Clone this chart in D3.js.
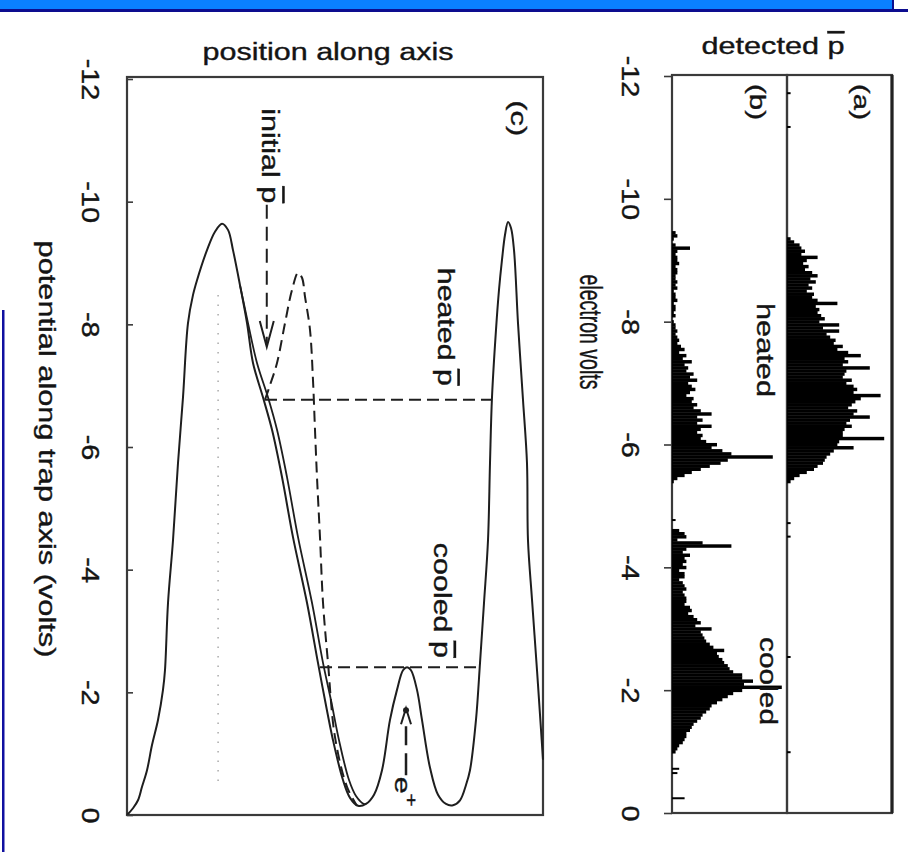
<!DOCTYPE html>
<html><head><meta charset="utf-8">
<script src="https://cdn.jsdelivr.net/npm/d3@7"></script>
<style>
html,body{margin:0;padding:0;background:#fff;}
svg{display:block;}
</style></head><body>
<svg id="chart" width="908" height="852"></svg>
<script>
// ---------------- data ----------------
const voltTicks = [-12, -10, -8, -6, -4, -2, 0];
const binWidth = 0.05;

// histogram (a): heated antiprotons, counts per 0.05 V bin
const heatedAStart = -9.35;
const heatedA = [2,4,7,8, 10,8,17,11,9, 12,10,14,17,13, 16,12,14,11,15, 14,17,28,16,18,
  17,19,21,18,29, 20,29,22,24,27, 26,31,28,34,41, 32,34,31,46,33, 32,31,36,33,37,
  39,37,52,41,38, 36,34,39,37,46, 35,33,36,32,31, 31,54,29,28,37, 26,24,22,21,20,
  17,15,11,7,4, 2];
// histogram (b): heated part
const heatedBStart = -9.45;
const heatedB = [2,3,1,0,2,10,3,2,3,3,4,2,3,3,2,2,3,2,3,1,2,2,3,1,2,2,1,2,0,1,2,2,3,2,3,4,3,5,7,4,
  8,6,11,7,9,8,12,10,14,9,11,13,10,8,12,11,14,12,16,22,14,17,14,22,16,14,17,16,19,25,
  22,28,33,56,31,27,21,16,11,7,3,1];
// histogram (b): cooled part
const cooledBStart = -4.6;
const cooledB = [4,7,8,3,17,33,8,6,10,7, 8,6,8,4,7,7,4,6,7,8, 6,7,8,8,7,10,11,9,12,14,
  16,13,22,16,17,18,19,21,23,29, 25,26,28,29,31,32,34,39,39,45, 40,61,39,34,31,28,25,22,21,19,
  17,16,14,12,11,10,8,8,7,6, 4,3,2];
// isolated single counts [volts, count]
const strayA = [[-11.72,2],[-11.17,2],[-4.72,2],[-4.5,2],[-2.54,2],[-0.99,2]];
const strayB = [[-4.77,2],[-0.72,4],[-0.65,3],[-0.24,7]];

// panel (c): trap potential vs. position (arbitrary position units 0..100)
const wellPos = [0,1.44,2.64,3.61,4.81,6.01,7.45,8.65,9.13,9.86,11.06,12.26,13.46,14.66,15.87,16.83,19.23,21.15,22.84,24.28,25.48,27.16,
  28.85,30.29,32.69,34.86,37.26,39.9,43.27,45.91,47.6,49.52,51.92,53.61,55.53,57.45,59.38,61.3,63.22,64.9,66.35,67.31,68.27,69.71,70.91,
  72.84,74.76,76.68,78.37,80.05,81.49,82.45,83.89,84.86,85.82,86.78,87.26,87.74,88.7,89.42,90.14,90.87,91.59,92.31,93.03,93.99,95.19,
  96.15,96.39,97.36,98.56,99.52,100];
const wellV = [0,-0.11,-0.24,-0.46,-0.73,-1.14,-1.55,-2.04,-2.36,-3.46,-4.48,-5.74,-6.81,-8.02,-8.48,-8.72,-9.21,-9.51,-9.64,-9.54,-9.21,-8.64,
  -8.02,-7.37,-6.81,-6.28,-5.51,-4.53,-3.46,-2.48,-1.87,-1.22,-0.57,-0.28,-0.15,-0.18,-0.33,-0.73,-1.55,-2.04,-2.36,-2.41,-2.36,-2.04,-1.55,
  -0.77,-0.33,-0.18,-0.16,-0.24,-0.49,-0.73,-1.55,-2.48,-3.46,-4.48,-5.74,-6.81,-7.91,-8.56,-9.05,-9.46,-9.67,-9.57,-9.21,-8.02,-6.77,
  -5.74,-4.48,-3.51,-2.36,-1.39,-0.9];
// second (slightly shifted) solid potential
const well2Pos = [27.16,29.09,31.25,33.89,36.06,38.46,41.11,44.47,47.12,49.04,50.96,53.37,55.05,56.97,57.45];
const well2V = [-8.64,-8.02,-7.37,-6.81,-6.28,-5.51,-4.53,-3.46,-2.48,-1.87,-1.22,-0.57,-0.31,-0.18,-0.18];
// dashed initial potential
const initPos = [33.17,34.38,36.06,37.98,39.66,41.11,42.07,42.79,43.99,44.71,45.19,45.67,46.39,47.12,48.32,50,52.88,55.29];
const initV = [-6.77,-7.01,-7.37,-8.02,-8.56,-8.84,-8.76,-8.45,-7.91,-7.09,-6.28,-5.51,-4.53,-3.46,-2.48,-1.27,-0.46,-0.15];
// energy levels (dashed): [volts, pos from, pos to]
const heatedLevel = [-6.77, 33.17, 87.5];
const cooledLevel = [-2.41, 46.4, 84.86];
const initialArrow = [33.6, -9.95, -7.63];   // pos, V from, V to
const positronArrow = [67.07, -0.65, -1.74];
const centerDotted = [21.9, -8.48, -0.49];

// ---------------- drawing ----------------
const FONT = '"Liberation Sans", Arial, Helvetica, sans-serif';
const svg = d3.select("#chart").attr("font-family", FONT);
const ink = "#1e1e1e", frameCol = "#3a3a3a", textCol = "#141414";

// slide decoration
svg.append("rect").attr("x",0).attr("y",0).attr("width",893).attr("height",9).attr("fill","#0a80ff");
svg.append("rect").attr("x",0).attr("y",9).attr("width",908).attr("height",3).attr("fill","#0d0d8f");
svg.append("rect").attr("x",892).attr("y",0).attr("width",2).attr("height",12).attr("fill","#0d0d8f");
svg.append("rect").attr("x",2).attr("y",310).attr("width",2.5).attr("height",542).attr("fill","#1010a0");

const yC = d3.scaleLinear().domain([-12, 0]).range([79, 815]);
const xPos = d3.scaleLinear().domain([0, 100]).range([127, 543]);
const yR = d3.scaleLinear().domain([-12, 0]).range([76, 813]);
const xCnt = d3.scaleLinear().domain([0, 60]).range([0, 108]);
const xB0 = 672, xA0 = 787, xA1 = 892;

// text helper: optional 90° rotation, stretched along the reading direction to a target length
function label(x, y, rot, size, parts, len) {
  const t = svg.append("text")
    .attr("text-anchor","middle").attr("dominant-baseline", rot ? "central" : "auto")
    .attr("font-size", size).attr("fill",textCol)
    .attr("stroke",textCol).attr("stroke-width",0.35);
  parts.forEach(p => {
    const s = t.append("tspan").text(p.t);
    if (p.over) s.attr("text-decoration","overline");
    if (p.sup) s.attr("baseline-shift","super").attr("font-size", size*0.75);
  });
  const L = t.node().getComputedTextLength();
  const sx = len ? len / L : 1;
  t.attr("transform", `translate(${x},${y})` + (rot ? " rotate(90)" : "") + ` scale(${sx},1)`);
  return t;
}

// ---- panel (c)
const gC = svg.append("g");
gC.append("rect").attr("x",xPos(0)).attr("y",77).attr("width",xPos(100)-xPos(0)).attr("height",815-77)
  .attr("fill","none").attr("stroke",frameCol).attr("stroke-width",2.2);

function styleAxis(g, dx) {
  g.attr("font-family", FONT).attr("font-size", 24);
  g.select(".domain").remove();
  g.selectAll(".tick line").attr("stroke",frameCol).attr("stroke-width",1.6);
  g.selectAll(".tick text").attr("x",null).attr("dy",null)
    .attr("transform",`translate(${dx},0) rotate(90) scale(1.2,1)`).attr("text-anchor","middle")
    .attr("dominant-baseline","central").attr("fill",textCol)
    .attr("stroke",textCol).attr("stroke-width",0.4);
}
const axC = d3.axisLeft(yC).tickValues(voltTicks).tickSize(-6).tickSizeOuter(0).tickFormat(d => String(d));
styleAxis(svg.append("g").attr("transform",`translate(${xPos(0)},0)`).call(axC), -37);

const line = d3.line().x(d => xPos(d[0])).y(d => yC(d[1])).curve(d3.curveCatmullRom.alpha(0.5));
gC.append("path").attr("d", line(wellPos.map((p,i)=>[p, wellV[i]])))
  .attr("fill","none").attr("stroke",ink).attr("stroke-width",2);
gC.append("path").attr("d", line(well2Pos.map((p,i)=>[p, well2V[i]])))
  .attr("fill","none").attr("stroke",ink).attr("stroke-width",1.8);
gC.append("path").attr("d", line(initPos.map((p,i)=>[p, initV[i]])))
  .attr("fill","none").attr("stroke",ink).attr("stroke-width",2).attr("stroke-dasharray","11,6");

[heatedLevel, cooledLevel].forEach(l => {
  gC.append("line").attr("x1",xPos(l[1])).attr("x2",xPos(l[2])).attr("y1",yC(l[0])).attr("y2",yC(l[0]))
    .attr("stroke",ink).attr("stroke-width",2).attr("stroke-dasharray","12,6");
});
// dotted centre line
gC.append("line").attr("x1",xPos(centerDotted[0])).attr("x2",xPos(centerDotted[0]))
  .attr("y1",yC(centerDotted[1])).attr("y2",yC(centerDotted[2]))
  .attr("stroke","#aaa").attr("stroke-width",1.5).attr("stroke-dasharray","1.5,8");
// initial arrow
{
  const x = xPos(initialArrow[0]), y1 = yC(initialArrow[1]), y2 = yC(initialArrow[2]);
  gC.append("line").attr("x1",x).attr("x2",x).attr("y1",y1).attr("y2",y2-4)
    .attr("stroke",ink).attr("stroke-width",2).attr("stroke-dasharray","14,8");
  gC.append("polyline").attr("points",`${x-7},${y2-26} ${x},${y2} ${x+7},${y2-26}`)
    .attr("fill","none").attr("stroke",ink).attr("stroke-width",2);
}
// positron arrow
{
  const x = xPos(positronArrow[0]), y1 = yC(positronArrow[1]), y2 = yC(positronArrow[2]);
  gC.append("line").attr("x1",x).attr("x2",x).attr("y1",y1).attr("y2",y2+18)
    .attr("stroke",ink).attr("stroke-width",2.5).attr("stroke-dasharray","22,8");
  gC.append("polyline").attr("points",`${x-5},${y2+16} ${x},${y2} ${x+5},${y2+16}`)
    .attr("fill","none").attr("stroke",ink).attr("stroke-width",2);
  gC.append("circle").attr("cx",x).attr("cy",y2+2).attr("r",3).attr("fill",ink);
}

// ---- panels (a) and (b)
svg.append("rect").attr("x",xB0).attr("y",75).attr("width",xA0-xB0).attr("height",813-75)
  .attr("fill","none").attr("stroke",frameCol).attr("stroke-width",2.2);
svg.append("rect").attr("x",xA0).attr("y",75).attr("width",xA1-xA0).attr("height",813-75)
  .attr("fill","none").attr("stroke",frameCol).attr("stroke-width",2.2);
svg.append("line").attr("x1",xA1).attr("x2",xA1).attr("y1",75).attr("y2",813)
  .attr("stroke","#222").attr("stroke-width",3.2);

const barH = yR(binWidth) - yR(0);
function hist(x0, start, counts) {
  svg.append("g").selectAll("rect").data(counts).join("rect")
    .attr("x", x0).attr("y", (d,i) => yR(start + i*binWidth) - barH/2)
    .attr("width", d => xCnt(d)).attr("height", barH + 0.4).attr("fill","#000");
}
function stray(x0, arr) {
  svg.append("g").selectAll("rect").data(arr).join("rect")
    .attr("x", x0).attr("y", d => yR(d[0]) - 1).attr("width", d => xCnt(d[1])).attr("height", 2).attr("fill","#000");
}
hist(xA0, heatedAStart, heatedA);
hist(xB0, heatedBStart, heatedB);
hist(xB0, cooledBStart, cooledB);
stray(xA0, strayA);
stray(xB0, strayB);

const axR = d3.axisLeft(yR).tickValues(voltTicks).tickSize(8).tickSizeOuter(0).tickFormat(d => String(d));
styleAxis(svg.append("g").attr("transform",`translate(${xB0},0)`).call(axR), -42);

// ---- texts
label(328, 60, false, 23, [{t:"position along axis"}], 251);
label(773, 54, false, 23, [{t:"detected "},{t:"p", over:true}], 143);
label(47, 449, true, 23, [{t:"potential along trap axis (volts)"}], 417);
label(591, 332, true, 31, [{t:"electron volts"}], 115);
label(xPos(34.4), yC(-10.75), true, 23, [{t:"initial "},{t:"p", over:true}], 95);
label(xPos(76.5), yC(-7.96), true, 23, [{t:"heated "},{t:"p", over:true}], 118);
label(xPos(75.6), yC(-3.5), true, 23, [{t:"cooled "},{t:"p", over:true}], 115);
label(xPos(94.2), yC(-11.36), true, 22, [{t:"(c)"}], 36);
label(xPos(66.2), yC(-0.38), true, 22, [{t:"e"},{t:"+", sup:true}], 30);
label(765, 350, true, 23, [{t:"heated"}], 94);
label(768, 681, true, 23, [{t:"cooled"}], 88);
label(862, 102, true, 22, [{t:"(a)"}], 36);
label(758, 102, true, 22, [{t:"(b)"}], 36);
</script>
</body></html>
